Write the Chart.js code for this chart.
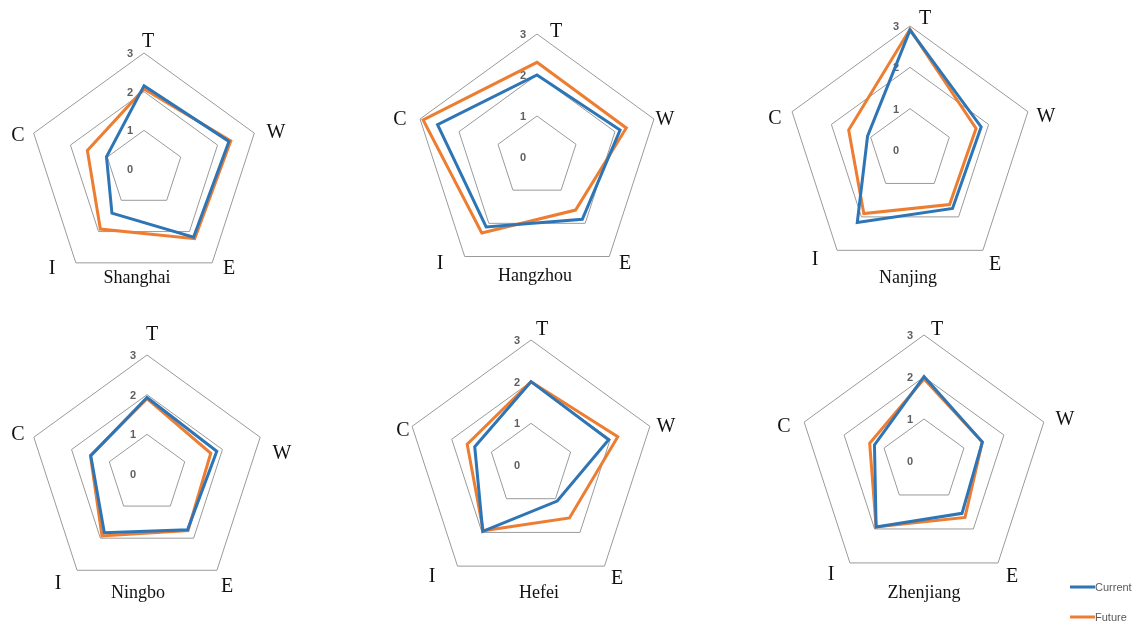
<!DOCTYPE html>
<html><head><meta charset="utf-8">
<script src="https://cdn.jsdelivr.net/npm/chart.js@4.4.1/dist/chart.umd.min.js"></script>
<style>
html,body{margin:0;padding:0;background:#fff;}
#stage{position:relative;width:1138px;height:624px;overflow:hidden;background:#fff;}
canvas{position:absolute;}
.lbl{position:absolute;transform:translate(-50%,-50%);font-family:"Liberation Serif","Times New Roman",serif;color:#111;white-space:nowrap;line-height:1;}
.ax{font-size:20px;}
.city{font-size:18px;}
.leg{position:absolute;font-family:"Liberation Sans",Arial,sans-serif;font-size:11px;color:#595959;line-height:1;white-space:nowrap;transform:translateY(-50%);}
.leg i{display:inline-block;width:25px;height:3px;vertical-align:middle;position:relative;top:-1px;}
</style></head><body><div id="stage"></div>
<script>
// ---- data ----
const axisLabels = ['T', 'W', 'E', 'I', 'C'];
const tickValues = [0, 1, 2, 3];
const cityNames = ['Shanghai', 'Hangzhou', 'Nanjing', 'Ningbo', 'Hefei', 'Zhenjiang'];
const seriesNames = ['Current', 'Future'];

const shanghaiCurrent  = [2.15, 2.31, 2.18, 1.41, 1.02];
const shanghaiFuture   = [2.07, 2.36, 2.23, 1.92, 1.54];
const hangzhouCurrent  = [2.00, 2.13, 1.88, 2.11, 2.55];
const hangzhouFuture   = [2.31, 2.29, 1.60, 2.29, 2.92];
const nanjingCurrent   = [2.90, 1.81, 1.75, 2.17, 1.08];
const nanjingFuture    = [2.92, 1.68, 1.63, 1.90, 1.56];
const ningboCurrent    = [1.93, 1.85, 1.74, 1.83, 1.49];
const ningboFuture     = [1.90, 1.69, 1.76, 1.93, 1.50];
const hefeiCurrent     = [2.00, 1.96, 1.07, 1.97, 1.42];
const hefeiFuture      = [2.00, 2.19, 1.57, 1.95, 1.61];
const zhenjiangCurrent = [2.01, 1.46, 1.54, 1.94, 1.24];
const zhenjiangFuture  = [1.95, 1.46, 1.66, 1.94, 1.36];

const currentSeries = [shanghaiCurrent, hangzhouCurrent, nanjingCurrent, ningboCurrent, hefeiCurrent, zhenjiangCurrent];
const futureSeries  = [shanghaiFuture, hangzhouFuture, nanjingFuture, ningboFuture, hefeiFuture, zhenjiangFuture];

// ---- layout (page px) ----
const panelGeom = [ // center x, center y, radius
  [144, 169, 116], [537, 157, 123], [910, 150, 124],
  [147, 474, 119], [531, 465, 125], [924, 461, 126]
];
const labelPos = [ // T, W, E, I, C, city
  [[148,40],[276,131],[229,267],[52,267],[18,134],[137,277]],
  [[556,30],[665,118],[625,262],[440,262],[400,118],[535,275]],
  [[925,17],[1046,115],[995,263],[815,258],[775,117],[908,277]],
  [[152,333],[282,452],[227,585],[58,582],[18,433],[138,592]],
  [[542,328],[666,425],[617,577],[432,575],[403,429],[539,592]],
  [[937,328],[1065,418],[1012,575],[831,573],[784,425],[924,592]]
];
const COLORS = {current: '#2E75B6', future: '#ED7D31', grid: '#9a9a9a', tick: '#5f5f5f'};

const stage = document.getElementById('stage');

const tickPlugin = {
  id: 'tickText',
  beforeDatasetsDraw(chart) {
    const s = chart.scales.r, ctx = chart.ctx;
    ctx.save();
    ctx.font = 'bold 11px "Liberation Sans", Arial, sans-serif';
    ctx.fillStyle = COLORS.tick;
    ctx.textAlign = 'center';
    ctx.textBaseline = 'middle';
    tickValues.forEach(v => {
      const d = s.getDistanceFromCenterForValue(v);
      ctx.fillText(String(v), s.xCenter - 14, s.yCenter - d + 1);
    });
    ctx.restore();
  }
};

const PAD = 20;
cityNames.forEach((city, i) => {
  const [cx, cy, R] = panelGeom[i];
  const size = 2 * R + 2 * PAD;
  const cv = document.createElement('canvas');
  cv.width = size; cv.height = size;
  cv.style.left = (cx - R - PAD) + 'px';
  cv.style.top = (cy - R - PAD) + 'px';
  cv.style.width = size + 'px'; cv.style.height = size + 'px';
  stage.appendChild(cv);
  new Chart(cv, {
    type: 'radar',
    data: {
      labels: axisLabels,
      datasets: [
        {label: seriesNames[0], data: currentSeries[i], borderColor: COLORS.current, backgroundColor: 'transparent', borderWidth: 3, fill: false, pointRadius: 0, tension: 0},
        {label: seriesNames[1], data: futureSeries[i], borderColor: COLORS.future, backgroundColor: 'transparent', borderWidth: 3, fill: false, pointRadius: 0, tension: 0}
      ]
    },
    options: {
      responsive: false, animation: false, devicePixelRatio: 1,
      layout: {padding: PAD},
      plugins: {legend: {display: false}, tooltip: {enabled: false}},
      elements: {line: {borderJoinStyle: 'miter'}},
      scales: {
        r: {
          min: 0, max: 3,
          ticks: {display: false, stepSize: 1},
          pointLabels: {display: false},
          angleLines: {display: false},
          grid: {color: COLORS.grid, lineWidth: 1, circular: false}
        }
      }
    },
    plugins: [tickPlugin]
  });
  // text labels
  axisLabels.forEach((a, k) => {
    const d = document.createElement('div');
    d.className = 'lbl ax'; d.textContent = a;
    d.style.left = labelPos[i][k][0] + 'px'; d.style.top = labelPos[i][k][1] + 'px';
    stage.appendChild(d);
  });
  const t = document.createElement('div');
  t.className = 'lbl city'; t.textContent = city;
  t.style.left = labelPos[i][5][0] + 'px'; t.style.top = labelPos[i][5][1] + 'px';
  stage.appendChild(t);
});

// legend
[[seriesNames[0], COLORS.current, 587], [seriesNames[1], COLORS.future, 617]].forEach(([name, col, y]) => {
  const l = document.createElement('div');
  l.className = 'leg';
  l.style.left = '1070px'; l.style.top = y + 'px';
  l.innerHTML = '<i style="background:' + col + '"></i>' + name;
  stage.appendChild(l);
});
</script>
</body></html>
